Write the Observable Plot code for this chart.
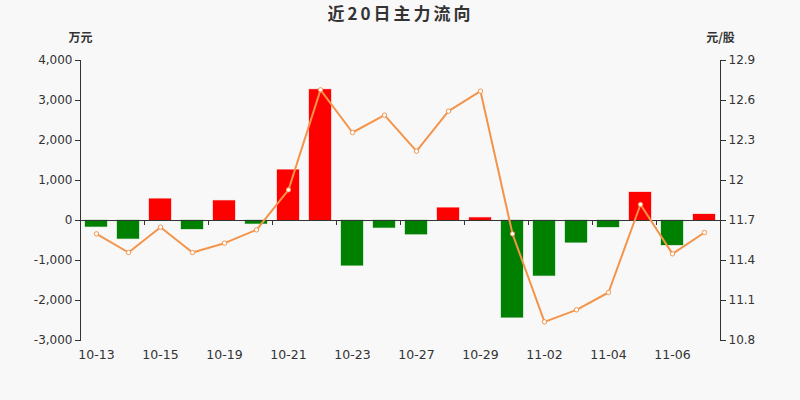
<!DOCTYPE html>
<html>
<head>
<meta charset="utf-8">
<script src="https://cdn.jsdelivr.net/npm/d3@7"></script>
<script src="https://cdn.jsdelivr.net/npm/@observablehq/plot@0.6"></script>
<style>
  html, body { margin: 0; padding: 0; background: #f8f8f8; }
  #chart { width: 800px; height: 400px; }
  svg { font-family: "DejaVu Sans", "Noto Sans CJK SC", sans-serif; }
</style>
</head>
<body>
<div id="chart"></div>
<script>
// ---- data ----
const dates = ["10-13","10-14","10-15","10-16","10-19","10-20","10-21","10-22","10-23","10-26",
               "10-27","10-28","10-29","10-30","11-02","11-03","11-04","11-05","11-06","11-09"];
const flows = [-165, -465, 535, -225, 490, -90, 1260, 3270, -1135, -190,
               -355, 310, 65, -2435, -1390, -560, -175, 700, -625, 150];   // 万元
const prices = [11.60, 11.46, 11.65, 11.46, 11.53, 11.63, 11.93, 12.68, 12.36, 12.49,
                12.22, 12.52, 12.67, 11.60, 10.94, 11.03, 11.16, 11.82, 11.45, 11.61]; // 元/股
const labeledDates = ["10-13","10-15","10-19","10-21","10-23","10-27","10-29","11-02","11-04","11-06"];
const leftTicks = [-3000, -2000, -1000, 0, 1000, 2000, 3000, 4000];
const rightTicks = [10.8, 11.1, 11.4, 11.7, 12, 12.3, 12.6, 12.9];
const leftDomain = [-3000, 4000];
const rightDomain = [10.8, 12.9];
const title = "近20日主力流向";
const leftUnit = "万元";
const rightUnit = "元/股";

// ---- styles ----
const upColor = "#ff0000", downColor = "#008000", lineColor = "#f4944a", axisColor = "#333";

// map right-axis (price) values onto the left-axis (flow) scale
const toLeft = d3.scaleLinear().domain(rightDomain).range(leftDomain);

const table = dates.map((d, i) => ({date: d, flow: flows[i], price: prices[i]}));

const chart = Plot.plot({
  width: 800,
  height: 400,
  marginTop: 60,
  marginBottom: 60,
  marginLeft: 80,
  marginRight: 80,
  style: {background: "#f8f8f8", color: axisColor, fontSize: "12px"},
  x: {domain: dates, paddingInner: 0.3, paddingOuter: 0.15, axis: null},
  y: {domain: leftDomain, axis: null},
  marks: [
    Plot.barY(table, {
      x: "date", y: "flow",
      fill: d => d.flow >= 0 ? upColor : downColor,
      stroke: d => d.flow >= 0 ? upColor : downColor,
      strokeOpacity: 0.3
    }),
    // zero line and its ticks
    Plot.ruleY([0], {stroke: axisColor, strokeWidth: 1}),
    Plot.ruleX(labeledDates.slice(1), {x: d => d, y1: 0, y2: -125, dx: -16, stroke: axisColor}),
    // left / right axis lines
    Plot.frame({anchor: "left", stroke: axisColor}),
    Plot.frame({anchor: "right", stroke: axisColor}),
    Plot.axisY({anchor: "left", ticks: leftTicks, tickSize: 5, tickPadding: 3,
      tickFormat: d => d.toLocaleString("en-US"), label: null, stroke: axisColor, fill: axisColor}),
    Plot.axisY({anchor: "right", ticks: rightTicks.map(toLeft), tickSize: 5, tickPadding: 3,
      tickFormat: d => String(+toLeft.invert(d).toFixed(1)), label: null, stroke: axisColor, fill: axisColor}),
    Plot.axisX({anchor: "bottom", ticks: labeledDates, tickSize: 0, tickPadding: 10, label: null,
      fill: axisColor, fontSize: 12.5}),
    // price line
    Plot.line(table, {x: "date", y: d => toLeft(d.price), stroke: lineColor, strokeWidth: 2}),
    Plot.dot(table, {x: "date", y: d => toLeft(d.price), r: 2.2, fill: "white", stroke: lineColor, strokeWidth: 1}),
    // title and units
    Plot.text([title], {text: d => d, frameAnchor: "top", dy: -46, fontSize: 17, fontWeight: "bold",
      fill: "#333", textAnchor: "middle", lineAnchor: "middle", fontFamily: "Noto Sans CJK SC"}),
    Plot.text([leftUnit], {text: d => d, frameAnchor: "top-left", dy: -22, fontSize: 12, fontWeight: "bold",
      fill: "#333", textAnchor: "middle", lineAnchor: "middle", fontFamily: "Noto Sans CJK SC"}),
    Plot.text([rightUnit], {text: d => d, frameAnchor: "top-right", dy: -22, fontSize: 12, fontWeight: "bold",
      fill: "#333", textAnchor: "middle", lineAnchor: "middle", fontFamily: "Noto Sans CJK SC"})
  ]
});
// widen the title spacing like the reference
d3.select(chart).selectAll("text").filter(function() { return this.textContent === title; })
  .style("letter-spacing", "3px");
document.getElementById("chart").appendChild(chart);
</script>
</body>
</html>
